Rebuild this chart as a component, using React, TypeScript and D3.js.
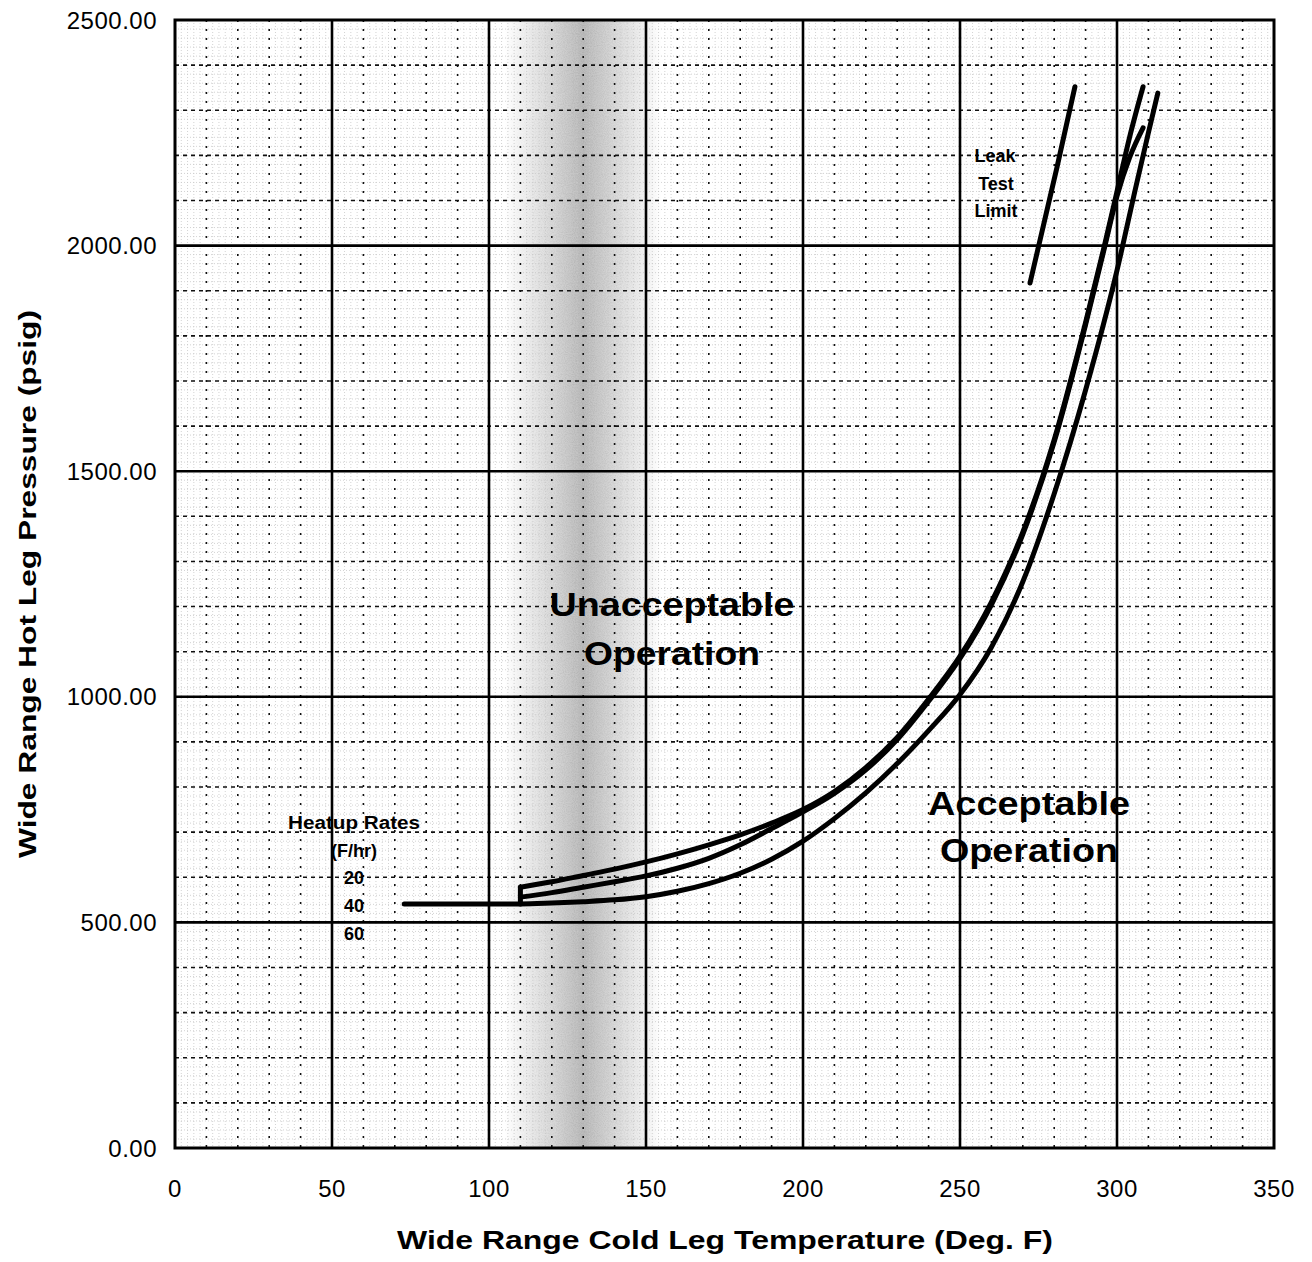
import React from "react";
import * as d3 from "d3";

// ---- data ----
const xTicks = [0, 50, 100, 150, 200, 250, 300, 350];
const yTicks = [0, 500, 1000, 1500, 2000, 2500];
const heatupRates = ["20", "40", "60"];

// Heatup curve that starts highest at 110 F
const curve20: [number, number][] = [
  [110, 578], [120, 590], [130, 604], [140, 618], [150, 634], [160, 652],
  [170, 672], [180, 694], [190, 720], [200, 750], [210, 790], [220, 843],
  [230, 910], [240, 995], [250, 1090], [260, 1210], [270, 1365], [280, 1570],
  [290, 1830], [296, 2000], [300, 2120], [304, 2240], [308.3, 2352],
];
// Middle heatup curve
const curve40: [number, number][] = [
  [110, 556], [120, 566], [130, 578], [140, 590], [150, 603], [160, 620],
  [170, 642], [180, 672], [190, 708], [200, 745], [210, 786], [220, 838],
  [230, 905], [240, 990], [250, 1085], [260, 1204], [270, 1360], [280, 1565],
  [290, 1825], [296, 1995], [300, 2110], [304, 2195], [308.3, 2261],
];
// Lowest heatup curve (includes flat segment)
const curve60: [number, number][] = [
  [73, 541], [110, 541], [120, 543], [130, 546], [140, 550], [150, 557],
  [160, 569], [170, 586], [180, 609], [190, 640], [200, 680], [210, 730],
  [220, 787], [230, 852], [240, 925], [250, 1005], [260, 1110], [270, 1255],
  [280, 1450], [290, 1680], [300, 1945], [306, 2130], [310, 2250], [313, 2338],
];
// Leak test limit
const leakTest: [number, number][] = [[272.3, 1917], [280.9, 2174], [286.6, 2352]];

const W = 1312;
const H = 1262;
const FONT = "'Liberation Sans', Arial, Helvetica, sans-serif";

export default function App() {
  const x = d3.scaleLinear().domain([0, 350]).range([175, 1274]);
  const y = d3.scaleLinear().domain([0, 2500]).range([1148, 20]);

  const line = d3
    .line<[number, number]>()
    .x((d) => x(d[0]))
    .y((d) => y(d[1]))
    .curve(d3.curveMonotoneX);
  const straight = d3
    .line<[number, number]>()
    .x((d) => x(d[0]))
    .y((d) => y(d[1]));

  const minorX = d3.range(0, 351, 10).filter((v) => v % 50 !== 0);
  const minorY = d3.range(0, 2501, 100).filter((v) => v % 500 !== 0);
  const majorX = xTicks.filter((v) => v > 0 && v < 350);
  const majorY = yTicks.filter((v) => v > 0 && v < 2500);
  const fineX = d3.range(0, 351, 2).filter((v) => v % 10 !== 0);
  const fineY = d3.range(0, 2501, 20).filter((v) => v % 100 !== 0);

  const connector: [number, number][] = [
    [curve20[0][0], curve60[1][1]],
    [curve20[0][0], curve20[0][1]],
  ];

  const [x0, x1] = x.range();
  const [y0, y1] = y.range();

  return (
    <svg
      width={W}
      height={H}
      style={{ position: "absolute", left: 0, top: 0, background: "#fff" }}
      fontFamily={FONT}
    >
      <defs>
        <linearGradient id="band" x1="0" x2="1" y1="0" y2="0">
          <stop offset="0" stopColor="#666" stopOpacity="0" />
          <stop offset="0.25" stopColor="#666" stopOpacity="0.2" />
          <stop offset="0.5" stopColor="#555" stopOpacity="0.4" />
          <stop offset="0.75" stopColor="#666" stopOpacity="0.2" />
          <stop offset="1" stopColor="#666" stopOpacity="0" />
        </linearGradient>
        <filter id="grain" x="0" y="0" width="1" height="1">
          <feTurbulence type="fractalNoise" baseFrequency="0.9" numOctaves="2" seed="3" />
          <feColorMatrix type="matrix" values="0 0 0 0 0.3  0 0 0 0 0.3  0 0 0 0 0.3  0 0 0 -2 1.3" />
          <feComposite in2="SourceGraphic" operator="in" />
        </filter>
      </defs>
      <rect x={0} y={0} width={W} height={H} fill="#fff" />

      {/* scan band */}
      <rect x={x(105)} y={y1} width={x(155) - x(105)} height={y0 - y1} fill="url(#band)" />
      <rect x={x(105)} y={y1} width={x(155) - x(105)} height={y0 - y1} fill="url(#band)" filter="url(#grain)" opacity={0.8} />

      {/* fine grid */}
      <g stroke="#c8c8c8" strokeWidth={0.8} strokeDasharray="1 2">
        {fineX.map((v) => (
          <line key={"fx" + v} x1={x(v)} x2={x(v)} y1={y1} y2={y0} />
        ))}
        {fineY.map((v) => (
          <line key={"fy" + v} x1={x0} x2={x1} y1={y(v)} y2={y(v)} />
        ))}
      </g>

      {/* minor grid */}
      <g stroke="#111" strokeWidth={1.6}>
        {minorX.map((v) => (
          <line key={"mx" + v} x1={x(v)} x2={x(v)} y1={y1} y2={y0} strokeDasharray="2 7" />
        ))}
        {minorY.map((v) => (
          <line key={"my" + v} x1={x0} x2={x1} y1={y(v)} y2={y(v)} strokeDasharray="4 4" />
        ))}
      </g>

      {/* major grid */}
      <g stroke="#000" strokeWidth={2.6}>
        {majorX.map((v) => (
          <line key={"Mx" + v} x1={x(v)} x2={x(v)} y1={y1} y2={y0} />
        ))}
        {majorY.map((v) => (
          <line key={"My" + v} x1={x0} x2={x1} y1={y(v)} y2={y(v)} />
        ))}
      </g>
      <rect x={x0} y={y1} width={x1 - x0} height={y0 - y1} fill="none" stroke="#000" strokeWidth={3} />

      {/* curves */}
      <g fill="none" stroke="#000" strokeWidth={5} strokeLinecap="round" strokeLinejoin="round">
        <path d={line(curve60) || ""} />
        <path d={line(curve40) || ""} />
        <path d={line(curve20) || ""} />
        <path d={straight(connector) || ""} />
        <path d={line(leakTest) || ""} />
      </g>

      {/* axis tick labels */}
      <g fontSize={24} fill="#000" letterSpacing={0.5}>
        {yTicks.map((v) => (
          <text key={"yl" + v} x={157} y={y(v)} dy="0.36em" textAnchor="end">
            {v.toFixed(2)}
          </text>
        ))}
        {xTicks.map((v) => (
          <text key={"xl" + v} x={x(v)} y={1197} textAnchor="middle">
            {v}
          </text>
        ))}
      </g>

      {/* axis titles */}
      <text
        x={725}
        y={1249}
        textAnchor="middle"
        fontSize={25}
        fontWeight="bold"
        textLength={656}
        lengthAdjust="spacingAndGlyphs"
      >
        Wide Range Cold Leg Temperature (Deg. F)
      </text>
      <text
        transform={`translate(36,${584}) rotate(-90)`}
        textAnchor="middle"
        fontSize={24}
        fontWeight="bold"
        textLength={548}
        lengthAdjust="spacingAndGlyphs"
      >
        Wide Range Hot Leg Pressure (psig)
      </text>

      {/* region labels */}
      <g fontWeight="bold" fontSize={34} textAnchor="middle">
        <text x={672} y={616} textLength={245} lengthAdjust="spacingAndGlyphs">Unacceptable</text>
        <text x={672} y={665} textLength={176} lengthAdjust="spacingAndGlyphs">Operation</text>
        <text x={1029} y={815} textLength={202} lengthAdjust="spacingAndGlyphs">Acceptable</text>
        <text x={1029} y={862} textLength={178} lengthAdjust="spacingAndGlyphs">Operation</text>
      </g>

      {/* leak test label */}
      <g fontWeight="bold" fontSize={18} textAnchor="middle">
        <text x={995} y={162}>Leak</text>
        <text x={996} y={190}>Test</text>
        <text x={996} y={217}>Limit</text>
      </g>

      {/* heatup rates legend */}
      <g fontWeight="bold" fontSize={18} textAnchor="middle">
        <text x={354} y={829} textLength={132} lengthAdjust="spacingAndGlyphs">Heatup Rates</text>
        <text x={354} y={857}>(F/hr)</text>
        {heatupRates.map((r, i) => (
          <text key={r} x={354} y={884 + i * 28}>
            {r}
          </text>
        ))}
      </g>
    </svg>
  );
}
